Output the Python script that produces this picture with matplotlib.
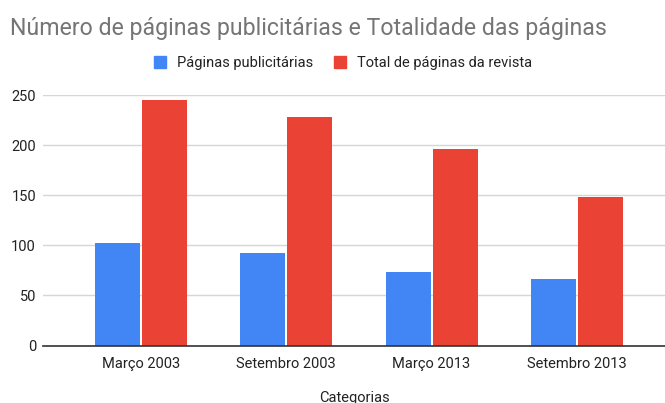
import matplotlib
matplotlib.use("Agg")
import matplotlib.pyplot as plt
from matplotlib.patches import Patch
import numpy as np

plt.rcParams['font.family'] = ['Roboto', 'DejaVu Sans']

categories = ["Março 2003", "Setembro 2003", "Março 2013", "Setembro 2013"]
pub = [102, 92, 73, 66]
total = [245, 228, 196, 148]
series_names = ["Páginas publicitárias", "Total de páginas da revista"]
yticks = [0, 50, 100, 150, 200, 250]

blue = "#4285F4"
red = "#EA4335"

W, H = 665, 403
fig = plt.figure(figsize=(W/100, H/100), dpi=100)
ax = fig.add_axes([43/W, 1-345.5/H, (665-43)/W, (345.5-95.3)/H])

x = np.arange(len(categories))
bw = 0.31
off = 0.162
ax.bar(x - off, pub, width=bw, color=blue, zorder=3, edgecolor='none')
ax.bar(x + off, total, width=bw, color=red, zorder=3, edgecolor='none')

ax.set_xlim((43-141)/145.3, (665-141)/145.3)
ax.set_ylim(0, 250)
ax.set_yticks(yticks)
ax.set_xticks(x)
ax.set_xticklabels(categories)
ax.yaxis.grid(True, color="#d6d6d6", linewidth=1, zorder=0)
for s in ['top', 'right', 'left']:
    ax.spines[s].set_visible(False)
ax.spines['bottom'].set_color('#333333')
ax.spines['bottom'].set_linewidth(1.2)
ax.spines['bottom'].set_zorder(4)
ax.tick_params(axis='both', length=0, labelsize=10.5, labelcolor='#222222')
ax.tick_params(axis='x', pad=8)
ax.tick_params(axis='y', pad=5)
ax.set_xlabel("Categorias", fontsize=10.5, color='#222222', labelpad=15)

fig.text(10/W, 1-28/H, "Número de páginas publicitárias e Totalidade das páginas",
         fontsize=16.7, color='#757575', ha='left', va='center')

handles = [Patch(color=blue), Patch(color=red)]
fig.legend(handles, series_names, loc='center', bbox_to_anchor=(343/W, 1-63/H),
           ncol=2, frameon=False, fontsize=10.5, handlelength=0.85, handleheight=0.85,
           handletextpad=0.75, columnspacing=1.4, labelcolor='#222222')

fig.savefig("out.png", dpi=100)
